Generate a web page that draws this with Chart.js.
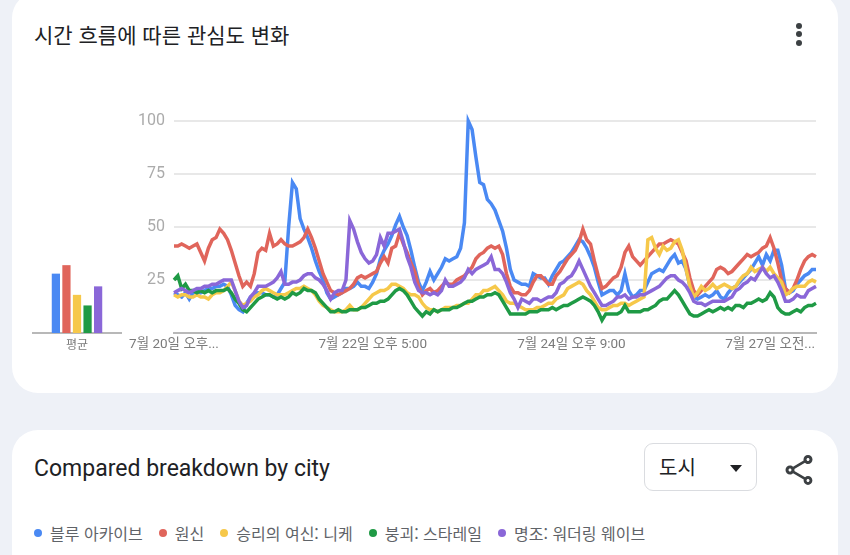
<!DOCTYPE html>
<html lang="ko">
<head>
<meta charset="utf-8">
<script src="https://cdn.jsdelivr.net/npm/chart.js@4.4.1/dist/chart.umd.min.js"></script>
<style>
  html, body { margin: 0; padding: 0; }
  body {
    width: 850px; height: 555px; position: relative; overflow: hidden;
    background: #eef1f7;
    font-family: Roboto, "Noto Sans CJK KR", sans-serif;
  }
  .card { position: absolute; left: 12px; width: 826px; background: #fff; border-radius: 26px; }
  #card1 { top: -8px; height: 401px; }
  #card2 { top: 430px; height: 180px; }
  .title { position: absolute; left: 34px; top: 20px; font-size: 21px; line-height: 28px; color: #202124; font-family: "Noto Sans CJK KR", sans-serif; }
  .menu { position: absolute; left: 796px; top: 23px; width: 6px; }
  .menu span { display: block; width: 6px; height: 6px; border-radius: 50%; background: #3c4043; margin-bottom: 2.3px; }
  #trend { position: absolute; left: 120px; top: 100px; }
  #avg { position: absolute; left: 20px; top: 100px; }
  .city { position: absolute; left: 34px; top: 454px; font-size: 23px; line-height: 30px; color: #202124; }
  .drop { position: absolute; left: 644px; top: 443px; width: 113px; height: 48px; border: 1px solid #dadce0; border-radius: 9px; box-sizing: border-box; }
  .drop .txt { position: absolute; left: 14px; top: 9px; font-size: 20px; line-height: 28px; color: #202124; font-family: "Noto Sans CJK KR", sans-serif; }
  .drop .tri { position: absolute; left: 85px; top: 21px; width: 0; height: 0; border-left: 6px solid transparent; border-right: 6px solid transparent; border-top: 7px solid #202124; }
  .share { position: absolute; left: 781px; top: 452px; }
  #legend { position: absolute; left: 34px; top: 521px; display: flex; align-items: center; font-family: "Noto Sans CJK KR", sans-serif; font-size: 16px; line-height: 24px; color: #5f6368; }
  #legend .item { display: flex; align-items: center; margin-right: 16px; }
  #legend .dot { width: 8px; height: 8px; border-radius: 50%; margin-right: 8px; }
</style>
</head>
<body>
<div class="card" id="card1"></div>
<div class="card" id="card2"></div>
<div class="title">시간 흐름에 따른 관심도 변화</div>
<div class="menu"><span></span><span></span><span></span></div>
<canvas id="avg" width="110" height="270"></canvas>
<canvas id="trend" width="710" height="270"></canvas>
<div class="city">Compared breakdown by city</div>
<div class="drop"><div class="txt">도시</div><div class="tri"></div></div>
<svg class="share" width="36" height="36" viewBox="0 0 24 24"><path fill="#3c4043" d="M18 16.08c-.76 0-1.44.3-1.96.77L8.91 12.7c.05-.23.09-.46.09-.7s-.04-.47-.09-.7l7.05-4.11c.54.5 1.25.81 2.04.81 1.66 0 3-1.34 3-3s-1.34-3-3-3-3 1.34-3 3c0 .24.04.47.09.7L8.04 9.81C7.5 9.31 6.790 9 6 9c-1.66 0-3 1.34-3 3s1.34 3 3 3c.79 0 1.5-.31 2.04-.81l7.12 4.16c-.05.21-.08.43-.08.65 0 1.61 1.31 2.92 2.92 2.92s2.92-1.31 2.92-2.92c0-1.61-1.31-2.92-2.92-2.92zM18 4c.55 0 1 .45 1 1s-.45 1-1 1-1-.45-1-1 .45-1 1-1zM6 13c-.55 0-1-.45-1-1s.45-1 1-1 1 .45 1 1-.45 1-1 1zm12 7.02c-.55 0-1-.45-1-1s.45-1 1-1 1 .45 1 1-.45 1-1 1z"/></svg>
<div id="legend"></div>
<script>
// series names and colors
const seriesNames = ['블루 아카이브', '원신', '승리의 여신: 니케', '붕괴: 스타레일', '명조: 워더링 웨이브'];
const seriesColors = ['#4a89f3', '#e0655b', '#f6c84a', '#1f9a45', '#8a67d8'];

// x axis: hourly points, only a few get a visible label
const tickIndex = [0, 52, 104, 156];
const tickLabels = ['7월 20일 오후...', '7월 22일 오후 5:00', '7월 24일 오후 9:00', '7월 27일 오전...'];

// hourly interest values (169 points each)
const blueArchive = [
  19, 18, 17, 19, 16, 19, 20, 19, 20, 21,
  21, 22, 22, 23, 22, 18, 13, 11, 10, 14,
  17, 18, 19, 19, 18, 18, 17, 18, 21, 24,
  50, 71, 68, 54, 49, 45, 40, 34, 29, 25,
  19, 16,
  17, 18, 19, 21, 21, 22, 24, 22,
  22, 21, 24, 28, 35, 39, 42, 46, 51, 55,
  50, 46, 39, 31, 24, 20, 24, 29, 25, 28,
  31, 35, 34, 35, 36, 40, 52, 100, 96, 83,
  71, 70, 63, 61, 58, 53, 48, 40, 30, 25,
  24, 23, 23, 22, 28, 27, 26, 26, 23, 27,
  30, 33, 34, 36, 38, 41, 44, 43, 40, 36,
  31, 24, 18, 19, 20, 20, 18, 20, 28, 20,
  17, 18, 20, 20, 24, 28, 29,
  30, 29, 32, 35, 37, 33, 34, 30, 22, 17,
  16, 17, 18, 17, 18, 20, 17, 16, 19, 21,
  22, 24, 26, 28, 30, 33, 36, 32, 37, 34,
  39, 39, 32, 21, 19, 20, 23, 25, 27, 28,
  30, 30
];
const genshin = [
  41, 41, 42, 41, 40, 41, 42, 38, 34, 40,
  44, 45, 49, 47, 44, 39, 33, 27, 22, 24,
  22, 28, 38, 40, 39, 47, 41, 42, 44, 42,
  41, 41, 42, 43, 45, 49, 45, 40, 34, 28,
  24, 20,
  19, 18, 19, 20, 21, 23, 26, 27,
  26, 27, 28, 29, 33, 36, 33, 40, 41, 47,
  42, 38, 33, 29, 22, 18, 20, 21, 19, 20,
  22, 24, 23, 23, 25, 26, 27, 29, 31, 35,
  37, 38, 40, 41, 40, 41, 37, 28, 22, 19,
  19, 18, 18, 20, 24, 27, 27, 25, 23, 23,
  27, 29, 32, 35, 37, 39, 43, 49, 44, 42,
  34, 27, 21, 22, 24, 26, 27, 31, 38, 41,
  36, 34, 32, 34, 36, 38, 40,
  42, 42, 43, 44, 43, 42, 38, 34, 26, 20,
  18, 20, 22, 24, 26, 30, 31, 30, 28, 29,
  31, 33, 35, 37, 36, 37, 38, 40, 41, 45,
  40, 33, 25, 21, 19, 21, 25, 30, 34, 36,
  37, 36
];
const nikke = [
  18, 17, 18, 18, 17, 17, 18, 17, 17, 16,
  18, 19, 19, 20, 22, 24, 20, 15, 13, 14,
  15, 17, 18, 20, 21, 20, 19, 18, 18, 18,
  19, 20, 21, 21, 22, 21, 20, 18, 15, 13,
  12, 11,
  10, 10, 10, 11, 13, 11, 11, 12,
  14, 16, 18, 19, 20, 20, 21, 23, 23, 22,
  21, 19, 18, 18, 17, 14, 12, 11, 11, 10,
  11, 12, 12, 12, 13, 13, 14, 14, 16, 18,
  18, 20, 20, 21, 22, 20, 18, 15, 14, 14,
  13, 12, 11, 11, 11, 12, 12, 13, 14, 14,
  16, 17, 18, 21, 22, 23, 24, 23, 20, 18,
  15, 12, 11, 11, 12, 13, 13, 14, 14, 13,
  14, 15, 16, 17, 44, 45, 40,
  37, 41, 39, 40, 43, 44, 39, 30, 22, 17,
  19, 22, 20, 21, 23, 21, 22, 23, 22, 21,
  22, 25, 27, 28, 31, 29, 30, 31, 29, 31,
  28, 26, 24, 18, 19, 21, 22, 22, 22, 24,
  25, 24
];
const starRail = [
  25, 27, 21, 23, 20, 20, 19, 20, 19, 20,
  19, 20, 20, 20, 21, 19, 16, 14, 11, 10,
  12, 14, 16, 17, 18, 18, 17, 16, 17, 16,
  17, 19, 18, 19, 21, 20, 20, 19, 16, 14,
  12, 10,
  10, 11, 10, 10, 11, 11, 11, 12,
  12, 13, 14, 14, 15, 15, 16, 18, 20, 21,
  20, 18, 15, 12, 10, 8, 10, 9, 11, 10,
  11, 11, 11, 12, 12, 13, 14, 15, 15, 16,
  17, 17, 18, 18, 19, 18, 15, 12, 9, 9,
  9, 9, 9, 10, 10, 10, 11, 11, 11, 12,
  11, 12, 13, 13, 14, 15, 16, 17, 16, 15,
  13, 10, 6, 9, 9, 9, 9, 10, 13, 10,
  10, 10, 10, 11, 11, 12, 13,
  15, 16, 16, 18, 20, 18, 15, 12, 9, 8,
  8, 9, 10, 11, 10, 11, 12, 11, 12, 11,
  13, 13, 12, 14, 14, 15, 16, 15, 16, 19,
  17, 12, 10, 9, 9, 10, 11, 10, 12, 13,
  13, 14
];
const wutheringWaves = [
  19, 20, 21, 20, 19, 20, 21, 21, 22, 22,
  23, 23, 24, 25, 25, 25, 20, 15, 12, 13,
  17, 19, 22, 22, 22, 23, 24, 26, 29, 23,
  23, 24, 24, 25, 27, 28, 28, 26, 25, 23,
  20, 16,
  19, 20, 20, 25, 53, 49, 43, 38,
  35, 33, 34, 37, 45, 41, 47, 47, 48, 49,
  43, 36, 31, 24, 20, 19, 19, 18, 19, 18,
  20, 25, 22, 22, 23, 24, 26, 30, 28, 30,
  31, 32, 33, 36, 30, 30, 28, 24, 19, 16,
  12, 16, 15, 14, 16, 16, 15, 16, 17, 17,
  19, 23, 24, 26, 27, 30, 34, 30, 26, 22,
  19, 16, 13, 13, 14, 15, 17, 17, 18, 16,
  17, 17, 18, 18, 19, 20, 21,
  22, 24, 26, 27, 27, 25, 24, 22, 19, 15,
  14, 14, 13, 14, 15, 15, 15, 15, 16, 17,
  20, 21, 23, 24, 26, 25, 28, 31, 28, 26,
  27, 24, 20, 15, 15, 16, 18, 17, 17, 20,
  21, 22
];

// averages (left mini bar chart)
const averages = [28, 32, 18, 13, 22];

const series = [blueArchive, genshin, nikke, starRail, wutheringWaves];
const hours = blueArchive.map((_, i) => i);

const tickFont = { family: 'Roboto, "Noto Sans CJK KR", sans-serif', size: 13.5 };

new Chart(document.getElementById('trend'), {
  type: 'line',
  data: {
    labels: hours,
    datasets: series.map((s, i) => ({
      label: seriesNames[i],
      data: s,
      borderColor: seriesColors[i],
      backgroundColor: seriesColors[i],
      borderWidth: 3.5,
      pointRadius: 0,
      tension: 0,
      clip: false,
      order: series.length - 1 - i
    }))
  },
  options: {
    responsive: false,
    animation: false,
    layout: { padding: { top: 21, right: 14, left: 0, bottom: 0 } },
    plugins: { legend: { display: false }, tooltip: { enabled: false } },
    scales: {
      x: {
        grid: { display: false, drawTicks: false },
        border: { display: true, color: '#b8b8b8', width: 2 },
        ticks: {
          autoSkip: false, maxRotation: 0, padding: 4, color: '#7b7b7b', font: tickFont,
          callback: (v, i) => {
            const k = tickIndex.indexOf(i);
            return k >= 0 ? tickLabels[k] : null;
          }
        },
        afterFit: s => { s.height = 37; }
      },
      y: {
        min: 0, max: 100,
        ticks: {
          stepSize: 25, padding: 9, color: '#ababab',
          font: { family: 'Roboto, sans-serif', size: 16 },
          callback: v => v === 0 ? '' : v
        },
        grid: {
          drawTicks: false, lineWidth: 2,
          color: c => c.tick && c.tick.value === 0 ? 'rgba(0,0,0,0)' : '#e8e8e8'
        },
        border: { display: false },
        afterFit: s => { s.width = 54; }
      }
    }
  }
});

new Chart(document.getElementById('avg'), {
  type: 'bar',
  data: {
    labels: ['평균'],
    datasets: averages.map((a, i) => ({
      label: seriesNames[i],
      data: [a],
      backgroundColor: seriesColors[i],
      barPercentage: 0.78,
      categoryPercentage: 0.6
    }))
  },
  options: {
    responsive: false,
    animation: false,
    layout: { padding: { top: 21, right: 9, left: 13, bottom: 0 } },
    plugins: { legend: { display: false }, tooltip: { enabled: false } },
    scales: {
      x: {
        grid: { display: false, drawTicks: false },
        border: { display: true, color: '#b8b8b8', width: 2 },
        ticks: { padding: 4, color: '#7b7b7b', font: { family: '"Noto Sans CJK KR", sans-serif', size: 12 } },
        afterFit: s => { s.height = 37; }
      },
      y: { display: false, min: 0, max: 100 }
    }
  }
});

// legend row
const legend = document.getElementById('legend');
seriesNames.forEach((name, i) => {
  const item = document.createElement('div');
  item.className = 'item';
  const dot = document.createElement('span');
  dot.className = 'dot';
  dot.style.background = seriesColors[i];
  const txt = document.createElement('span');
  txt.textContent = name;
  item.appendChild(dot);
  item.appendChild(txt);
  legend.appendChild(item);
});
</script>
</body>
</html>
